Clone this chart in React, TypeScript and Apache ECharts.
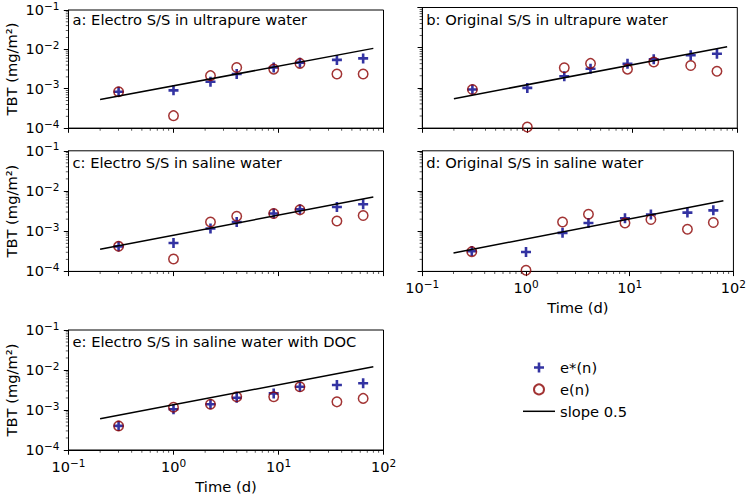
import React, { useEffect, useRef } from "react";
import * as echarts from "echarts";

// ---- data ----
const TIME = [0.3, 1, 2.25, 4, 9, 16, 36, 64];

const TITLES = [
  "a: Electro S/S in ultrapure water",
  "b: Original S/S in ultrapure water",
  "c: Electro S/S in saline water",
  "d: Original S/S in saline water",
  "e: Electro S/S in saline water with DOC",
];

const ESTAR_A = [8.4e-4, 9.1e-4, 1.5e-3, 2.36e-3, 3.45e-3, 4.6e-3, 5.4e-3, 5.9e-3];
const E_A = [8.4e-4, 2.07e-4, 2.15e-3, 3.45e-3, 3.15e-3, 4.4e-3, 2.36e-3, 2.36e-3];
const ESTAR_B = [9.1e-4, 1.0e-3, 1.95e-3, 3.0e-3, 4.0e-3, 5.15e-3, 6.5e-3, 7.1e-3];
const E_B = [9.1e-4, 1.06e-4, 3.16e-3, 4.07e-3, 2.93e-3, 4.4e-3, 3.6e-3, 2.6e-3];
const ESTAR_C = [4.2e-4, 5.1e-4, 1.17e-3, 1.7e-3, 2.75e-3, 3.5e-3, 4.0e-3, 4.7e-3];
const E_C = [4.2e-4, 2.04e-4, 1.7e-3, 2.36e-3, 2.75e-3, 3.4e-3, 1.8e-3, 2.45e-3];
const ESTAR_D = [3.2e-4, 3.05e-4, 9.1e-4, 1.6e-3, 2.1e-3, 2.6e-3, 2.9e-3, 3.3e-3];
const E_D = [3.1e-4, 1.07e-4, 1.7e-3, 2.65e-3, 1.6e-3, 1.95e-3, 1.12e-3, 1.65e-3];
const ESTAR_E = [4.0e-4, 1.04e-3, 1.39e-3, 2.03e-3, 2.6e-3, 3.8e-3, 4.2e-3, 4.65e-3];
const E_E = [4.0e-4, 1.17e-3, 1.39e-3, 2.15e-3, 2.15e-3, 3.8e-3, 1.6e-3, 1.95e-3];

// slope-0.5 reference line: end points (time, TBT)
const LINE_T = [0.2, 80];
const LINE_A = [5.3e-4, 1.06e-2];
const LINE_B = [5.4e-4, 1.06e-2];
const LINE_C = [3.56e-4, 7.1e-3];
const LINE_D = [2.88e-4, 5.7e-3];
const LINE_E = [6.06e-4, 1.21e-2];

const X_MIN = 0.1;
const X_MAX = 100;
const Y_MIN = 1e-4;
const Y_MAX = 0.1;
const MINOR_X = [0.2, 0.3, 0.4, 0.5, 0.6, 0.7, 0.8, 0.9, 2, 3, 4, 5, 6, 7, 8, 9, 20, 30, 40, 50, 60, 70, 80, 90];
const MINOR_Y = [
  2e-4, 3e-4, 4e-4, 5e-4, 6e-4, 7e-4, 8e-4, 9e-4,
  2e-3, 3e-3, 4e-3, 5e-3, 6e-3, 7e-3, 8e-3, 9e-3,
  2e-2, 3e-2, 4e-2, 5e-2, 6e-2, 7e-2, 8e-2, 9e-2,
];

const SERIES_ESTAR = [ESTAR_A, ESTAR_B, ESTAR_C, ESTAR_D, ESTAR_E];
const SERIES_E = [E_A, E_B, E_C, E_D, E_E];
const LINES = [LINE_A, LINE_B, LINE_C, LINE_D, LINE_E];

// ---- layout ----
const GRID_W = 315;
const GRID_H = 120.6;
const GRID_POS = [
  { left: 68.5, top: 7.5 },
  { left: 422.3, top: 7.5 },
  { left: 68.5, top: 150.8 },
  { left: 422.3, top: 150.8 },
  { left: 68.5, top: 330 },
];
const SHOW_X_LABEL = [false, false, false, true, true];
const SHOW_Y_LABEL = [true, false, true, false, true];
const TITLE_TOP = [11.6, 11.6, 155.3, 155.3, 334.3];

const FONT = "DejaVu Sans";
const FS = 14.7;
const BLUE = "#00008b";
const RED = "#8b0000";
const PLUS = "path://M3.7,0H6.3V3.7H10V6.3H6.3V10H3.7V6.3H0V3.7H3.7Z";
const LINE_ICON = "path://M0,0H32V1.5H0Z";

const powLabel = (v: number) => {
  const e = Math.round(Math.log10(v));
  const s = e < 0 ? "\u2212" + -e : String(e);
  return `{b|10}{s|${s}}`;
};
const labelRich = {
  b: { fontSize: 14.5, lineHeight: 20, color: "#000", fontFamily: FONT },
  s: { fontSize: 10.5, lineHeight: 11, verticalAlign: "top", color: "#000", fontFamily: FONT },
};

function buildOption() {
  const grid: any[] = [];
  const xAxis: any[] = [];
  const yAxis: any[] = [];
  const title: any[] = [];
  const series: any[] = [];

  for (let i = 0; i < 5; i++) {
    const g = GRID_POS[i];
    grid.push({
      left: g.left,
      top: g.top,
      width: GRID_W,
      height: GRID_H,
      show: true,
      borderColor: "#000",
      borderWidth: 1,
      backgroundColor: "transparent",
    });
    xAxis.push({
      type: "log",
      logBase: 10,
      gridIndex: i,
      min: X_MIN,
      max: X_MAX,
      axisLine: { show: true, lineStyle: { color: "#000", width: 1 } },
      axisTick: { show: true, length: 4.7, lineStyle: { color: "#000", width: 1 } },
      splitLine: { show: false },
      axisLabel: {
        show: SHOW_X_LABEL[i],
        margin: 7,
        formatter: powLabel,
        rich: labelRich,
      },
      name: SHOW_X_LABEL[i] ? "Time (d)" : "",
      nameLocation: "middle",
      nameGap: 29,
      nameTextStyle: { fontSize: FS, color: "#000", fontFamily: FONT },
    });
    yAxis.push({
      type: "log",
      logBase: 10,
      gridIndex: i,
      min: Y_MIN,
      max: Y_MAX,
      axisLine: { show: true, lineStyle: { color: "#000", width: 1 } },
      axisTick: { show: true, length: 4.7, lineStyle: { color: "#000", width: 1 } },
      splitLine: { show: false },
      axisLabel: {
        show: SHOW_Y_LABEL[i],
        margin: 9,
        formatter: powLabel,
        rich: labelRich,
      },
      name: SHOW_Y_LABEL[i] ? "TBT (mg/m\u00b2)" : "",
      nameLocation: "middle",
      nameGap: 50,
      nameTextStyle: { fontSize: FS, color: "#000", fontFamily: FONT },
    });
    title.push({
      text: TITLES[i],
      left: g.left + 4,
      top: TITLE_TOP[i],
      padding: 0,
      textStyle: { fontSize: FS, fontWeight: "normal", color: "#000", fontFamily: FONT },
    });

    series.push({
      name: "e*(n)",
      type: "scatter",
      xAxisIndex: i,
      yAxisIndex: i,
      symbol: PLUS,
      symbolSize: 10,
      itemStyle: { color: BLUE },
      data: TIME.map((t, k) => [t, SERIES_ESTAR[i][k]]),
      z: 3,
    });
    series.push({
      name: "e(n)",
      type: "scatter",
      xAxisIndex: i,
      yAxisIndex: i,
      symbol: "circle",
      symbolSize: 9.5,
      itemStyle: { color: "rgba(0,0,0,0)", borderColor: RED, borderWidth: 1.5 },
      data: TIME.map((t, k) => [t, SERIES_E[i][k]]),
      z: 4,
    });
    series.push({
      name: "slope 0.5",
      type: "line",
      xAxisIndex: i,
      yAxisIndex: i,
      symbol: "none",
      showSymbol: false,
      lineStyle: { color: "#000", width: 1.5 },
      itemStyle: { color: "#000" },
      data: LINE_T.map((t, k) => [t, LINES[i][k]]),
      z: 5,
    });
    // minor ticks (outward) on the bottom and left axes
    series.push({
      name: "minor-x",
      type: "scatter",
      xAxisIndex: i,
      yAxisIndex: i,
      symbol: "rect",
      symbolSize: [0.8, 2.7],
      symbolOffset: [0, 1.35],
      itemStyle: { color: "#000" },
      silent: true,
      clip: false,
      data: MINOR_X.map((v) => [v, Y_MIN]),
      z: 6,
    });
    series.push({
      name: "minor-y",
      type: "scatter",
      xAxisIndex: i,
      yAxisIndex: i,
      symbol: "rect",
      symbolSize: [2.7, 0.8],
      symbolOffset: [-1.35, 0],
      itemStyle: { color: "#000" },
      silent: true,
      clip: false,
      data: MINOR_Y.map((v) => [X_MIN, v]),
      z: 6,
    });
  }

  return {
    animation: false,
    textStyle: { fontFamily: FONT, color: "#000" },
    title,
    grid,
    xAxis,
    yAxis,
    legend: {
      data: [
        { name: "e*(n)" },
        { name: "e(n)" },
        { name: "slope 0.5", icon: LINE_ICON, itemStyle: { color: "#000" } },
      ],
      orient: "vertical",
      left: 523,
      top: 360,
      padding: 0,
      itemWidth: 32,
      itemHeight: 10,
      itemGap: 6.9,
      itemTextGap: 11,
      selectedMode: false,
      textStyle: { fontSize: FS, color: "#000", fontFamily: FONT },
    },
    series,
  };
}

export default function App() {
  const ref = useRef<HTMLDivElement>(null);
  useEffect(() => {
    if (!ref.current) return;
    const chart = echarts.init(ref.current, null, { renderer: "svg" });
    chart.setOption(buildOption() as any);
    return () => chart.dispose();
  }, []);
  return (
    <div
      ref={ref}
      style={{ position: "absolute", left: 0, top: 0, width: 749, height: 495, background: "#fff" }}
    />
  );
}
